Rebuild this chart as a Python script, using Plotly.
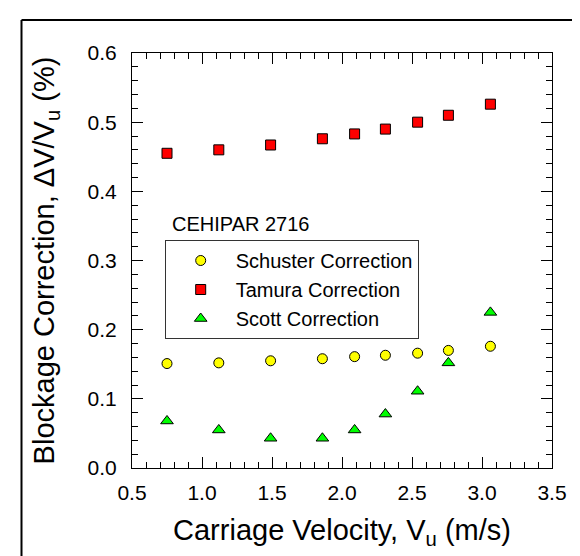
import plotly.graph_objects as go

velocity = [0.75, 1.12, 1.49, 1.86, 2.09, 2.31, 2.54, 2.76, 3.06]
schuster = [0.151, 0.152, 0.155, 0.158, 0.161, 0.163, 0.166, 0.170, 0.176]
tamura = [0.455, 0.460, 0.467, 0.476, 0.483, 0.490, 0.500, 0.510, 0.526]
scott = [0.068, 0.055, 0.043, 0.043, 0.055, 0.078, 0.111, 0.152, 0.225]

FONT = "Arial, Liberation Sans, sans-serif"
fig = go.Figure()
fig.add_trace(go.Scatter(x=velocity, y=schuster, mode="markers", name="Schuster Correction",
                         marker=dict(symbol="circle", size=10, color="#FFFF00",
                                     line=dict(color="black", width=1))))
fig.add_trace(go.Scatter(x=velocity, y=tamura, mode="markers", name="Tamura Correction",
                         marker=dict(symbol="square", size=10, color="#FF0000",
                                     line=dict(color="black", width=1))))
fig.add_trace(go.Scatter(x=velocity, y=scott, mode="markers", name="Scott Correction",
                         marker=dict(symbol="triangle-up", size=11, color="#00FF00",
                                     line=dict(color="black", width=1))))

axis_common = dict(showgrid=False, zeroline=False, showline=True, linecolor="black", linewidth=1,
                   mirror="ticks", ticks="inside", ticklen=11, tickwidth=1, tickcolor="black",
                   tickfont=dict(family=FONT, size=21, color="black"))

fig.update_xaxes(range=[0.5, 3.5], dtick=0.5, tick0=0.5, tickformat=".1f",
                 minor=dict(dtick=0.1, ticks="inside", ticklen=6, tickcolor="black"),
                 title=dict(text="Carriage Velocity, V<sub>u</sub> (m/s)",
                            font=dict(family=FONT, size=29, color="black"), standoff=16),
                 ticklabelstandoff=6,
                 **axis_common)
fig.update_yaxes(range=[0, 0.6], dtick=0.1, tick0=0, tickformat=".1f",
                 minor=dict(dtick=0.02, ticks="inside", ticklen=6, tickcolor="black"),
                 title=dict(text="Blockage Correction, \u0394V/V<sub>u</sub> (%)",
                            font=dict(family=FONT, size=29, color="black"), standoff=24),
                 ticklabelstandoff=10,
                 **axis_common)

fig.add_annotation(text="CEHIPAR 2716", xref="paper", yref="paper",
                   x=(161.7 - 124) / 420, y=(460 - 216) / 415, xanchor="left", yanchor="middle",
                   showarrow=False, font=dict(family=FONT, size=20, color="black"))

fig.update_layout(
    width=580, height=556,
    margin=dict(l=124, r=36, t=45, b=96, autoexpand=False),
    paper_bgcolor="white", plot_bgcolor="white",
    showlegend=True,
    legend=dict(x=(156.7 - 124) / 420, y=(460 - 232) / 415, xanchor="left", yanchor="top",
                bordercolor="#333333", borderwidth=1, bgcolor="white",
                font=dict(family=FONT, size=20, color="black"),
                itemwidth=60, tracegroupgap=0),
    shapes=[
        dict(type="line", xref="paper", yref="paper", x0=(13.5 - 124) / 420, x1=1.2,
             y0=1 + (45 - 12) / 415, y1=1 + (45 - 12) / 415, line=dict(color="black", width=2)),
        dict(type="line", xref="paper", yref="paper", x0=(13.5 - 124) / 420, x1=(13.5 - 124) / 420,
             y0=1 + (45 - 12) / 415, y1=-0.3, line=dict(color="black", width=2)),
    ],
)

fig.write_html("out.html")
